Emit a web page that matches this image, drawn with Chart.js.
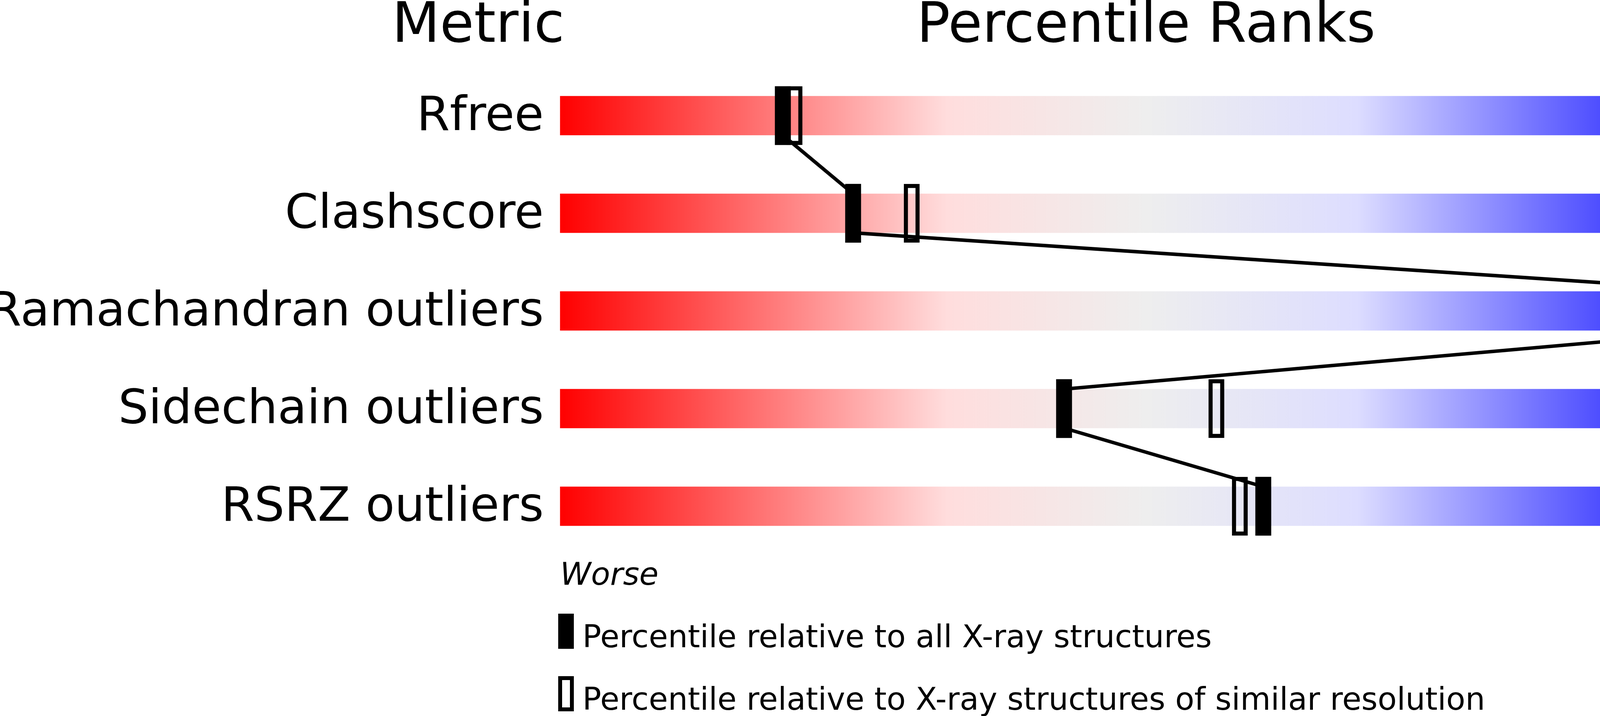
<!DOCTYPE html>
<html>
<head>
<meta charset="utf-8">
<script src="https://cdn.jsdelivr.net/npm/chart.js@4.4.1/dist/chart.umd.min.js"></script>
<style>
html,body{margin:0;padding:0;background:#ffffff;overflow:hidden;}
#wrap{width:4823px;height:1833px;position:relative;}
</style>
</head>
<body>
<div id="wrap"><canvas id="c"></canvas></div>
<script>
// ---- data ----
const metrics = ["Rfree", "Clashscore", "Ramachandran outliers", "Sidechain outliers", "RSRZ outliers"];
const valueLabels = ["0.268", "11", "0", "2.8%", "2.3%"];
const pctAll = [19, 25, 100, 43, 60];        // percentile relative to all X-ray structures
const pctSimilar = [20, 30, 100, 56, 58];    // percentile relative to similar resolution
const headers = ["Metric", "Percentile Ranks", "Value"];
const scaleEnds = ["Worse", "Better"];
const legendLabels = [
  "Percentile relative to all X-ray structures",
  "Percentile relative to X-ray structures of similar resolution"
];

// ---- styling constants ----
const FONT = "'DejaVu Sans', 'Liberation Sans', sans-serif";
const MARK_HALF = 0.667;   // half marker width in percentile units
const LINE_OFF = 0.2;      // line attaches at bar edge (row units)
const gradientStops = [[0, '#ff0000'], [0.33, '#ffdddd'], [0.5, '#eeeeee'], [0.68, '#ddddff'], [1, '#0000ff']];

const rows = metrics.map((_, i) => i);

function gradientFill(ctx) {
  const chart = ctx.chart;
  if (!chart.chartArea) return '#eeeeee';
  const xs = chart.scales.x;
  const g = chart.ctx.createLinearGradient(xs.getPixelForValue(0), 0, xs.getPixelForValue(100), 0);
  gradientStops.forEach(s => g.addColorStop(s[0], s[1]));
  return g;
}

const annot = {
  id: 'annot',
  afterDraw(chart) {
    const c = chart.ctx;
    const xs = chart.scales.x;
    const area = chart.chartArea;
    const x0 = xs.getPixelForValue(0), x1 = xs.getPixelForValue(100);
    c.save();
    c.fillStyle = '#000';
    c.strokeStyle = '#000';
    c.textBaseline = 'alphabetic';
    const hy = area.top - 64;
    c.font = `142px ${FONT}`;
    c.textAlign = 'right'; c.fillText(headers[0], x0 + 11, hy);
    c.textAlign = 'center'; c.fillText(headers[1], (x0 + x1) / 2, hy);
    c.textAlign = 'left'; c.fillText(headers[2], x1 - 2, hy);

    const b = area.bottom;
    c.font = `italic 80px ${FONT}`;
    c.textAlign = 'left'; c.fillText(scaleEnds[0], x0, b + 76);
    c.textAlign = 'right'; c.fillText(scaleEnds[1], x1, b + 76);

    // legend
    c.fillRect(x0 - 5, b + 150, 40, 90);
    c.lineWidth = 10;
    c.strokeRect(x0 - 5 + 5, b + 310 + 5, 30, 80);
    c.font = `80px ${FONT}`;
    c.textAlign = 'left';
    c.fillText(legendLabels[0], x0 + 57, b + 236);
    c.fillText(legendLabels[1], x0 + 57, b + 396);
    c.restore();
  }
};

const yTicksBase = {
  autoSkip: false,
  color: '#000',
  font: { size: 122, family: FONT },
  labelOffset: 5
};

new Chart(document.getElementById('c'), {
  type: 'bar',
  data: {
    datasets: [
      {
        type: 'bar',
        label: 'range',
        data: rows.map(i => ({ x: [0, 100], y: i })),
        backgroundColor: gradientFill,
        borderWidth: 0,
        barThickness: 100,
        grouped: false,
        clip: false,
        order: 3
      },
      {
        type: 'line',
        label: 'link',
        data: rows.flatMap(i => [{ x: pctAll[i], y: i - LINE_OFF }, { x: pctAll[i], y: i + LINE_OFF }]).slice(1, -1),
        borderColor: '#000',
        borderWidth: 9,
        pointRadius: 0,
        tension: 0,
        fill: false,
        clip: false,
        order: 2
      },
      {
        type: 'bar',
        label: 'similar',
        data: rows.map(i => ({ x: [pctSimilar[i] - MARK_HALF, pctSimilar[i] + MARK_HALF], y: i })),
        backgroundColor: 'rgba(0,0,0,0)',
        borderColor: '#000',
        borderWidth: 10,
        borderSkipped: false,
        barThickness: 150,
        grouped: false,
        clip: false,
        order: 1
      },
      {
        type: 'bar',
        label: 'all',
        data: rows.map(i => ({ x: [pctAll[i] - MARK_HALF, pctAll[i] + MARK_HALF], y: i })),
        backgroundColor: '#000',
        borderWidth: 0,
        barThickness: 150,
        grouped: false,
        clip: false,
        order: 0
      }
    ]
  },
  options: {
    indexAxis: 'y',
    responsive: true,
    maintainAspectRatio: false,
    devicePixelRatio: 1,
    animation: false,
    layout: { padding: { top: 171, bottom: 412, left: 0, right: 0 } },
    plugins: { legend: { display: false }, tooltip: { enabled: false } },
    scales: {
      x: { type: 'linear', min: 0, max: 100, offset: false, display: false },
      y: {
        type: 'linear', position: 'left', min: -0.5, max: 4.5, reverse: true, offset: false,
        grid: { display: false, drawTicks: false, offset: false },
        border: { display: false },
        ticks: Object.assign({}, yTicksBase, { padding: 42, callback: v => metrics[v] ?? '' }),
        afterBuildTicks: s => { s.ticks = rows.map(v => ({ value: v })); },
        afterFit: s => { s.width = 1434; }
      },
      y2: {
        type: 'linear', axis: 'y', position: 'right', min: -0.5, max: 4.5, reverse: true, offset: false,
        grid: { display: false, drawTicks: false, offset: false },
        border: { display: false },
        ticks: Object.assign({}, yTicksBase, { padding: 49, callback: v => valueLabels[v] ?? '' }),
        afterBuildTicks: s => { s.ticks = rows.map(v => ({ value: v })); },
        afterFit: s => { s.width = 389; }
      }
    }
  },
  plugins: [annot]
});
</script>
</body>
</html>
